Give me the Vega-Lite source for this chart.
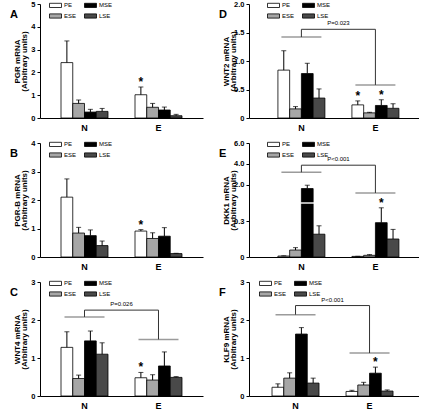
{
"$schema": "https://vega.github.io/schema/vega-lite/v6.json",
"padding": {"left": 10, "top": 0, "right": 0, "bottom": 0},
"datasets": {
"bars": [
{"p":"A","grp":"N","series":"PE","mean":2.43,"hi":3.38},
{"p":"A","grp":"N","series":"ESE","mean":0.64,"hi":0.79},
{"p":"A","grp":"N","series":"MSE","mean":0.26,"hi":0.38},
{"p":"A","grp":"N","series":"LSE","mean":0.29,"hi":0.42},
{"p":"A","grp":"E","series":"PE","mean":1.02,"hi":1.36,"star":1},
{"p":"A","grp":"E","series":"ESE","mean":0.47,"hi":0.64},
{"p":"A","grp":"E","series":"MSE","mean":0.35,"hi":0.48},
{"p":"A","grp":"E","series":"LSE","mean":0.10,"hi":0.16},
{"p":"B","grp":"N","series":"PE","mean":2.1,"hi":2.74},
{"p":"B","grp":"N","series":"ESE","mean":0.84,"hi":1.04},
{"p":"B","grp":"N","series":"MSE","mean":0.75,"hi":0.95},
{"p":"B","grp":"N","series":"LSE","mean":0.40,"hi":0.56},
{"p":"B","grp":"E","series":"PE","mean":0.91,"hi":0.96,"star":1},
{"p":"B","grp":"E","series":"ESE","mean":0.65,"hi":0.85},
{"p":"B","grp":"E","series":"MSE","mean":0.73,"hi":1.03},
{"p":"B","grp":"E","series":"LSE","mean":0.12,"hi":0.13},
{"p":"C","grp":"N","series":"PE","mean":1.28,"hi":1.69},
{"p":"C","grp":"N","series":"ESE","mean":0.46,"hi":0.55},
{"p":"C","grp":"N","series":"MSE","mean":1.45,"hi":1.71},
{"p":"C","grp":"N","series":"LSE","mean":1.10,"hi":1.40},
{"p":"C","grp":"E","series":"PE","mean":0.48,"hi":0.62,"star":1},
{"p":"C","grp":"E","series":"ESE","mean":0.42,"hi":0.56},
{"p":"C","grp":"E","series":"MSE","mean":0.79,"hi":1.16},
{"p":"C","grp":"E","series":"LSE","mean":0.49,"hi":0.51},
{"p":"D","grp":"N","series":"PE","mean":0.84,"hi":1.18},
{"p":"D","grp":"N","series":"ESE","mean":0.16,"hi":0.20},
{"p":"D","grp":"N","series":"MSE","mean":0.78,"hi":0.96},
{"p":"D","grp":"N","series":"LSE","mean":0.35,"hi":0.51},
{"p":"D","grp":"E","series":"PE","mean":0.23,"hi":0.30,"star":1},
{"p":"D","grp":"E","series":"ESE","mean":0.09,"hi":0.10},
{"p":"D","grp":"E","series":"MSE","mean":0.22,"hi":0.32,"star":1},
{"p":"D","grp":"E","series":"LSE","mean":0.17,"hi":0.25},
{"p":"E","grp":"N","series":"PE","mean":0.008,"hi":0.01},
{"p":"E","grp":"N","series":"ESE","mean":0.058,"hi":0.078},
{"p":"E","grp":"N","series":"MSE","mean":1.66,"hi":1.94},
{"p":"E","grp":"N","series":"LSE","mean":0.19,"hi":0.26},
{"p":"E","grp":"E","series":"PE","mean":0.005,"hi":0.006},
{"p":"E","grp":"E","series":"ESE","mean":0.014,"hi":0.02},
{"p":"E","grp":"E","series":"MSE","mean":0.286,"hi":0.41,"star":1},
{"p":"E","grp":"E","series":"LSE","mean":0.15,"hi":0.23},
{"p":"F","grp":"N","series":"PE","mean":0.23,"hi":0.32},
{"p":"F","grp":"N","series":"ESE","mean":0.47,"hi":0.61},
{"p":"F","grp":"N","series":"MSE","mean":1.63,"hi":1.80},
{"p":"F","grp":"N","series":"LSE","mean":0.34,"hi":0.47},
{"p":"F","grp":"E","series":"PE","mean":0.12,"hi":0.15},
{"p":"F","grp":"E","series":"ESE","mean":0.29,"hi":0.36},
{"p":"F","grp":"E","series":"MSE","mean":0.60,"hi":0.76,"star":1},
{"p":"F","grp":"E","series":"LSE","mean":0.13,"hi":0.16}
],
"brk": [
{"p":"C","grp":"N","line":2.08,"top":2.26},
{"p":"C","grp":"E","line":1.49,"top":2.26},
{"p":"D","grp":"N","line":1.42,"top":1.556},
{"p":"D","grp":"E","line":0.58,"top":1.556},
{"p":"E","grp":"N","line":3.18,"top":3.86},
{"p":"E","grp":"E","line":1.29,"top":3.86},
{"p":"F","grp":"N","line":2.14,"top":2.38},
{"p":"F","grp":"E","line":1.13,"top":2.38}
],
"conn": [
{"p":"C","grp":"N","grp2":"E","top":2.26,"label":"P=0.026"},
{"p":"D","grp":"N","grp2":"E","top":1.556,"label":"P=0.023"},
{"p":"E","grp":"N","grp2":"E","top":3.86,"label":"P<0.001"},
{"p":"F","grp":"N","grp2":"E","top":2.38,"label":"P<0.001"}
],
"gaps": [
{"p":"E","grp":"N","series":"MSE","y":0.45}
]
},
"columns": 2,
"spacing": {"row": 25, "column": 46},
"bounds": "flush",
"concat": [
{
"width": 163, "height": 114,
"title": {"text": "A"},
"data": {"name": "bars"},
"transform": [{"filter": "datum.p=='A'"}],
"encoding": {"x": {"field": "grp", "type": "nominal", "sort": ["N","E"], "title": null, "scale": {"paddingInner": 0.365, "paddingOuter": 0.284}}},
"layer": [
{"encoding": {"xOffset": {"field": "series", "type": "nominal", "scale": {"domain": ["PE","ESE","MSE","LSE"], "paddingInner": 0, "paddingOuter": 0}}},
"layer": [
{"mark": {"type": "bar"}, "encoding": {
"y": {"field": "mean", "type": "quantitative", "scale": {"domain": [0,5], "nice": false}, "axis": {"values": [0,1,2,3,4,5], "labelOverlap": false}, "title": ["PGR mRNA","(Arbitrary units)"]},
"color": {"field": "series", "type": "nominal", "scale": {"domain": ["PE","ESE","MSE","LSE"], "range": ["white","#a6a6a6","black","#494949"]}, "legend": {"title": null, "legendX": 12, "legendY": -2.5}}}},
{"mark": {"type": "rule", "color": "black"}, "encoding": {"y": {"field": "mean", "type": "quantitative", "axis": {"values": [0,1,2,3,4,5], "labelOverlap": false}}, "y2": {"field": "hi"}}},
{"mark": {"type": "tick", "color": "black", "size": 5, "thickness": 1}, "encoding": {"y": {"field": "hi", "type": "quantitative", "axis": {"values": [0,1,2,3,4,5], "labelOverlap": false}}}},
{"transform": [{"filter": "datum.star"}], "mark": {"type": "text", "text": "*", "fontSize": 12, "fontWeight": "bold", "baseline": "middle", "dy": -5}, "encoding": {"y": {"field": "hi", "type": "quantitative", "axis": {"values": [0,1,2,3,4,5], "labelOverlap": false}}}}
]}
]
},
{
"width": 170, "height": 114,
"title": {"text": "D"},
"data": {"name": "bars"},
"transform": [{"filter": "datum.p=='D'"}],
"encoding": {"x": {"field": "grp", "type": "nominal", "sort": ["N","E"], "title": null, "scale": {"paddingInner": 0.365, "paddingOuter": 0.331, "align": 0.59}}},
"layer": [
{"encoding": {"xOffset": {"field": "series", "type": "nominal", "scale": {"domain": ["PE","ESE","MSE","LSE"], "paddingInner": 0, "paddingOuter": 0}}},
"layer": [
{"mark": {"type": "bar"}, "encoding": {
"y": {"field": "mean", "type": "quantitative", "scale": {"domain": [0,2], "nice": false}, "axis": {"values": [0,0.5,1,1.5,2], "labelOverlap": false, "labelExpr": "datum.value == 0 ? '0' : format(datum.value, '.1f')"}, "title": ["WNT2 mRNA","(Arbitrary units)"]},
"color": {"field": "series", "type": "nominal", "scale": {"domain": ["PE","ESE","MSE","LSE"], "range": ["white","#a6a6a6","black","#494949"]}, "legend": {"title": null, "legendX": 21, "legendY": -2.5}}}},
{"mark": {"type": "rule", "color": "black"}, "encoding": {"y": {"field": "mean", "type": "quantitative", "axis": {"values": [0,0.5,1,1.5,2], "labelOverlap": false, "labelExpr": "datum.value == 0 ? '0' : format(datum.value, '.1f')"}}, "y2": {"field": "hi"}}},
{"mark": {"type": "tick", "color": "black", "size": 5, "thickness": 1}, "encoding": {"y": {"field": "hi", "type": "quantitative", "axis": {"values": [0,0.5,1,1.5,2], "labelOverlap": false, "labelExpr": "datum.value == 0 ? '0' : format(datum.value, '.1f')"}}}},
{"transform": [{"filter": "datum.star"}], "mark": {"type": "text", "text": "*", "fontSize": 12, "fontWeight": "bold", "baseline": "middle", "dy": -5}, "encoding": {"y": {"field": "hi", "type": "quantitative", "axis": {"values": [0,0.5,1,1.5,2], "labelOverlap": false, "labelExpr": "datum.value == 0 ? '0' : format(datum.value, '.1f')"}}}}
]},
{"data": {"name": "brk"}, "transform": [{"filter": "datum.p=='D'"}], "mark": {"type": "tick", "color": "#707070", "size": 40, "thickness": 1.5}, "encoding": {"y": {"field": "line", "type": "quantitative", "axis": {"values": [0,0.5,1,1.5,2], "labelOverlap": false, "labelExpr": "datum.value == 0 ? '0' : format(datum.value, '.1f')"}}}},
{"data": {"name": "brk"}, "transform": [{"filter": "datum.p=='D'"}], "mark": {"type": "rule", "color": "#333333"}, "encoding": {"y": {"field": "line", "type": "quantitative", "axis": {"values": [0,0.5,1,1.5,2], "labelOverlap": false, "labelExpr": "datum.value == 0 ? '0' : format(datum.value, '.1f')"}}, "y2": {"field": "top"}}},
{"data": {"name": "conn"}, "transform": [{"filter": "datum.p=='D'"}], "mark": {"type": "rule", "color": "#333333"}, "encoding": {"x2": {"field": "grp2"}, "y": {"field": "top", "type": "quantitative", "axis": {"values": [0,0.5,1,1.5,2], "labelOverlap": false, "labelExpr": "datum.value == 0 ? '0' : format(datum.value, '.1f')"}}}},
{"data": {"name": "conn"}, "transform": [{"filter": "datum.p=='D'"}], "mark": {"type": "text", "fontSize": 6, "dx": 37, "dy": -3, "baseline": "bottom"}, "encoding": {"y": {"field": "top", "type": "quantitative", "axis": {"values": [0,0.5,1,1.5,2], "labelOverlap": false, "labelExpr": "datum.value == 0 ? '0' : format(datum.value, '.1f')"}}, "text": {"field": "label"}}}
]
},
{
"width": 163, "height": 114,
"title": {"text": "B"},
"data": {"name": "bars"},
"transform": [{"filter": "datum.p=='B'"}],
"encoding": {"x": {"field": "grp", "type": "nominal", "sort": ["N","E"], "title": null, "scale": {"paddingInner": 0.365, "paddingOuter": 0.284}}},
"layer": [
{"encoding": {"xOffset": {"field": "series", "type": "nominal", "scale": {"domain": ["PE","ESE","MSE","LSE"], "paddingInner": 0, "paddingOuter": 0}}},
"layer": [
{"mark": {"type": "bar"}, "encoding": {
"y": {"field": "mean", "type": "quantitative", "scale": {"domain": [0,4], "nice": false}, "axis": {"values": [0,1,2,3,4], "labelOverlap": false}, "title": ["PGR-B mRNA","(Arbitrary units)"]},
"color": {"field": "series", "type": "nominal", "scale": {"domain": ["PE","ESE","MSE","LSE"], "range": ["white","#a6a6a6","black","#494949"]}, "legend": {"title": null, "legendX": 12, "legendY": -2.5}}}},
{"mark": {"type": "rule", "color": "black"}, "encoding": {"y": {"field": "mean", "type": "quantitative", "axis": {"values": [0,1,2,3,4], "labelOverlap": false}}, "y2": {"field": "hi"}}},
{"mark": {"type": "tick", "color": "black", "size": 5, "thickness": 1}, "encoding": {"y": {"field": "hi", "type": "quantitative", "axis": {"values": [0,1,2,3,4], "labelOverlap": false}}}},
{"transform": [{"filter": "datum.star"}], "mark": {"type": "text", "text": "*", "fontSize": 12, "fontWeight": "bold", "baseline": "middle", "dy": -5}, "encoding": {"y": {"field": "hi", "type": "quantitative", "axis": {"values": [0,1,2,3,4], "labelOverlap": false}}}}
]}
]
},
{
"width": 170, "height": 114,
"title": {"text": "E"},
"data": {"name": "bars"},
"transform": [{"filter": "datum.p=='E'"}],
"encoding": {"x": {"field": "grp", "type": "nominal", "sort": ["N","E"], "title": null, "scale": {"paddingInner": 0.365, "paddingOuter": 0.331, "align": 0.59}}},
"layer": [
{"encoding": {"xOffset": {"field": "series", "type": "nominal", "scale": {"domain": ["PE","ESE","MSE","LSE"], "paddingInner": 0, "paddingOuter": 0}}},
"layer": [
{"mark": {"type": "bar"}, "encoding": {
"y": {"field": "mean", "type": "quantitative", "scale": {"domain": [0,0.45,2,6], "range": [114,60,41.5,0], "nice": false}, "axis": {"values": [0,0.3,2,4,6], "labelOverlap": false, "labelExpr": "datum.value == 0 ? '0' : format(datum.value, '.1f')"}, "title": ["DKK1 mRNA","(Arbitrary units)"]},
"color": {"field": "series", "type": "nominal", "scale": {"domain": ["PE","ESE","MSE","LSE"], "range": ["white","#a6a6a6","black","#494949"]}, "legend": {"title": null, "legendX": 21, "legendY": -2.5}}}},
{"mark": {"type": "rule", "color": "black"}, "encoding": {"y": {"field": "mean", "type": "quantitative", "axis": {"values": [0,0.3,2,4,6], "labelOverlap": false, "labelExpr": "datum.value == 0 ? '0' : format(datum.value, '.1f')"}}, "y2": {"field": "hi"}}},
{"mark": {"type": "tick", "color": "black", "size": 5, "thickness": 1}, "encoding": {"y": {"field": "hi", "type": "quantitative", "axis": {"values": [0,0.3,2,4,6], "labelOverlap": false, "labelExpr": "datum.value == 0 ? '0' : format(datum.value, '.1f')"}}}},
{"transform": [{"filter": "datum.star"}], "mark": {"type": "text", "text": "*", "fontSize": 12, "fontWeight": "bold", "baseline": "middle", "dy": -5}, "encoding": {"y": {"field": "hi", "type": "quantitative", "axis": {"values": [0,0.3,2,4,6], "labelOverlap": false, "labelExpr": "datum.value == 0 ? '0' : format(datum.value, '.1f')"}}}},
{"data": {"name": "gaps"}, "transform": [{"filter": "datum.p=='E'"}], "mark": {"type": "tick", "color": "white", "size": 14, "thickness": 2}, "encoding": {"y": {"field": "y", "type": "quantitative", "axis": {"values": [0,0.3,2,4,6], "labelOverlap": false, "labelExpr": "datum.value == 0 ? '0' : format(datum.value, '.1f')"}}}}
]},
{"data": {"name": "brk"}, "transform": [{"filter": "datum.p=='E'"}], "mark": {"type": "tick", "color": "#707070", "size": 40, "thickness": 1.5}, "encoding": {"y": {"field": "line", "type": "quantitative", "axis": {"values": [0,0.3,2,4,6], "labelOverlap": false, "labelExpr": "datum.value == 0 ? '0' : format(datum.value, '.1f')"}}}},
{"data": {"name": "brk"}, "transform": [{"filter": "datum.p=='E'"}], "mark": {"type": "rule", "color": "#333333"}, "encoding": {"y": {"field": "line", "type": "quantitative", "axis": {"values": [0,0.3,2,4,6], "labelOverlap": false, "labelExpr": "datum.value == 0 ? '0' : format(datum.value, '.1f')"}}, "y2": {"field": "top"}}},
{"data": {"name": "conn"}, "transform": [{"filter": "datum.p=='E'"}], "mark": {"type": "rule", "color": "#333333"}, "encoding": {"x2": {"field": "grp2"}, "y": {"field": "top", "type": "quantitative", "axis": {"values": [0,0.3,2,4,6], "labelOverlap": false, "labelExpr": "datum.value == 0 ? '0' : format(datum.value, '.1f')"}}}},
{"data": {"name": "conn"}, "transform": [{"filter": "datum.p=='E'"}], "mark": {"type": "text", "fontSize": 6, "dx": 37, "dy": -3, "baseline": "bottom"}, "encoding": {"y": {"field": "top", "type": "quantitative", "axis": {"values": [0,0.3,2,4,6], "labelOverlap": false, "labelExpr": "datum.value == 0 ? '0' : format(datum.value, '.1f')"}}, "text": {"field": "label"}}}
]
},
{
"width": 163, "height": 114,
"title": {"text": "C"},
"data": {"name": "bars"},
"transform": [{"filter": "datum.p=='C'"}],
"encoding": {"x": {"field": "grp", "type": "nominal", "sort": ["N","E"], "title": null, "scale": {"paddingInner": 0.365, "paddingOuter": 0.284}}},
"layer": [
{"encoding": {"xOffset": {"field": "series", "type": "nominal", "scale": {"domain": ["PE","ESE","MSE","LSE"], "paddingInner": 0, "paddingOuter": 0}}},
"layer": [
{"mark": {"type": "bar"}, "encoding": {
"y": {"field": "mean", "type": "quantitative", "scale": {"domain": [0,3], "nice": false}, "axis": {"values": [0,1,2,3], "labelOverlap": false}, "title": ["WNT4 mRNA","(Arbitrary units)"]},
"color": {"field": "series", "type": "nominal", "scale": {"domain": ["PE","ESE","MSE","LSE"], "range": ["white","#a6a6a6","black","#494949"]}, "legend": {"title": null, "legendX": 12, "legendY": -2.5}}}},
{"mark": {"type": "rule", "color": "black"}, "encoding": {"y": {"field": "mean", "type": "quantitative", "axis": {"values": [0,1,2,3], "labelOverlap": false}}, "y2": {"field": "hi"}}},
{"mark": {"type": "tick", "color": "black", "size": 5, "thickness": 1}, "encoding": {"y": {"field": "hi", "type": "quantitative", "axis": {"values": [0,1,2,3], "labelOverlap": false}}}},
{"transform": [{"filter": "datum.star"}], "mark": {"type": "text", "text": "*", "fontSize": 12, "fontWeight": "bold", "baseline": "middle", "dy": -5}, "encoding": {"y": {"field": "hi", "type": "quantitative", "axis": {"values": [0,1,2,3], "labelOverlap": false}}}}
]},
{"data": {"name": "brk"}, "transform": [{"filter": "datum.p=='C'"}], "mark": {"type": "tick", "color": "#707070", "size": 40, "thickness": 1.5}, "encoding": {"y": {"field": "line", "type": "quantitative", "axis": {"values": [0,1,2,3], "labelOverlap": false}}}},
{"data": {"name": "brk"}, "transform": [{"filter": "datum.p=='C'"}], "mark": {"type": "rule", "color": "#333333"}, "encoding": {"y": {"field": "line", "type": "quantitative", "axis": {"values": [0,1,2,3], "labelOverlap": false}}, "y2": {"field": "top"}}},
{"data": {"name": "conn"}, "transform": [{"filter": "datum.p=='C'"}], "mark": {"type": "rule", "color": "#333333"}, "encoding": {"x2": {"field": "grp2"}, "y": {"field": "top", "type": "quantitative", "axis": {"values": [0,1,2,3], "labelOverlap": false}}}},
{"data": {"name": "conn"}, "transform": [{"filter": "datum.p=='C'"}], "mark": {"type": "text", "fontSize": 6, "dx": 37, "dy": -3, "baseline": "bottom"}, "encoding": {"y": {"field": "top", "type": "quantitative", "axis": {"values": [0,1,2,3], "labelOverlap": false}}, "text": {"field": "label"}}}
]
},
{
"width": 170, "height": 114,
"title": {"text": "F"},
"data": {"name": "bars"},
"transform": [{"filter": "datum.p=='F'"}],
"encoding": {"x": {"field": "grp", "type": "nominal", "sort": ["N","E"], "title": null, "scale": {"paddingInner": 0.365, "paddingOuter": 0.331, "align": 0.47}}},
"layer": [
{"encoding": {"xOffset": {"field": "series", "type": "nominal", "scale": {"domain": ["PE","ESE","MSE","LSE"], "paddingInner": 0, "paddingOuter": 0}}},
"layer": [
{"mark": {"type": "bar"}, "encoding": {
"y": {"field": "mean", "type": "quantitative", "scale": {"domain": [0,3], "nice": false}, "axis": {"values": [0,1,2,3], "labelOverlap": false}, "title": ["KLF9 mRNA","(Arbitrary units)"]},
"color": {"field": "series", "type": "nominal", "scale": {"domain": ["PE","ESE","MSE","LSE"], "range": ["white","#a6a6a6","black","#494949"]}, "legend": {"title": null, "legendX": 13, "legendY": -2.5}}}},
{"mark": {"type": "rule", "color": "black"}, "encoding": {"y": {"field": "mean", "type": "quantitative", "axis": {"values": [0,1,2,3], "labelOverlap": false}}, "y2": {"field": "hi"}}},
{"mark": {"type": "tick", "color": "black", "size": 5, "thickness": 1}, "encoding": {"y": {"field": "hi", "type": "quantitative", "axis": {"values": [0,1,2,3], "labelOverlap": false}}}},
{"transform": [{"filter": "datum.star"}], "mark": {"type": "text", "text": "*", "fontSize": 12, "fontWeight": "bold", "baseline": "middle", "dy": -5}, "encoding": {"y": {"field": "hi", "type": "quantitative", "axis": {"values": [0,1,2,3], "labelOverlap": false}}}}
]},
{"data": {"name": "brk"}, "transform": [{"filter": "datum.p=='F'"}], "mark": {"type": "tick", "color": "#707070", "size": 40, "thickness": 1.5}, "encoding": {"y": {"field": "line", "type": "quantitative", "axis": {"values": [0,1,2,3], "labelOverlap": false}}}},
{"data": {"name": "brk"}, "transform": [{"filter": "datum.p=='F'"}], "mark": {"type": "rule", "color": "#333333"}, "encoding": {"y": {"field": "line", "type": "quantitative", "axis": {"values": [0,1,2,3], "labelOverlap": false}}, "y2": {"field": "top"}}},
{"data": {"name": "conn"}, "transform": [{"filter": "datum.p=='F'"}], "mark": {"type": "rule", "color": "#333333"}, "encoding": {"x2": {"field": "grp2"}, "y": {"field": "top", "type": "quantitative", "axis": {"values": [0,1,2,3], "labelOverlap": false}}}},
{"data": {"name": "conn"}, "transform": [{"filter": "datum.p=='F'"}], "mark": {"type": "text", "fontSize": 6, "dx": 37, "dy": -3, "baseline": "bottom"}, "encoding": {"y": {"field": "top", "type": "quantitative", "axis": {"values": [0,1,2,3], "labelOverlap": false}}, "text": {"field": "label"}}}
]
}
],
"resolve": {"scale": {"color": "independent", "xOffset": "independent", "x": "independent", "y": "independent"}, "legend": {"color": "independent"}},
"config": {
"font": "Liberation Sans",
"view": {"stroke": null},
"axis": {"domainColor": "black", "tickColor": "black", "labelColor": "black", "titleColor": "black", "grid": false},
"axisY": {"tickSize": 3, "labelPadding": 2, "labelFontSize": 7.5, "labelFontWeight": "bold", "labelOverlap": false, "labelBound": false, "labelFlush": false, "titleFontSize": 8, "titleFontWeight": "bold", "titleLineHeight": 7, "titleX": -19},
"axisX": {"ticks": false, "labelFontSize": 9, "labelFontWeight": "bold", "labelPadding": 5, "labelAngle": 0},
"legend": {"orient": "none", "columns": 2, "symbolType": "M-2,-0.7H2V0.7H-2Z", "symbolSize": 36, "labelFontSize": 6, "labelOffset": 5, "rowPadding": 2, "columnPadding": 5, "symbolStrokeColor": "black", "symbolStrokeWidth": 0.8, "labelColor": "black"},
"title": {"fontSize": 11, "fontWeight": "bold", "anchor": "start", "frame": "group", "dx": -30, "offset": -20, "baseline": "top", "color": "black"},
"bar": {"stroke": "black", "strokeWidth": 0.8},
"tick": {"thickness": 1}
}
}
